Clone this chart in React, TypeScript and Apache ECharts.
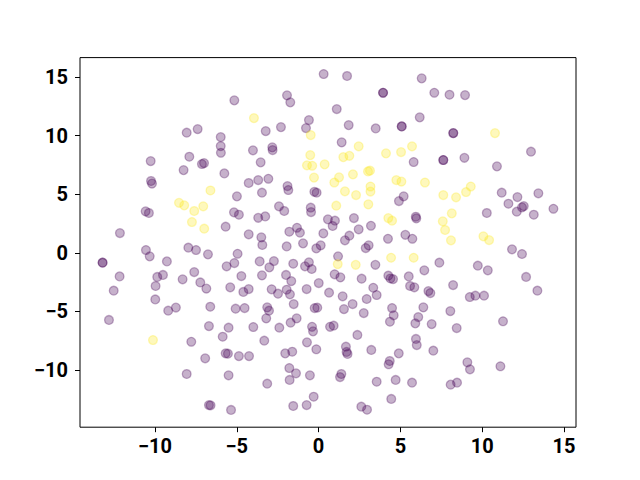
import React, { useEffect, useRef } from "react";
import * as echarts from "echarts";

// Class 0 (purple) points [x, y]
const purplePoints: number[][] = [
  [-8.06, 10.25], [-7.39, 10.56], [-10.26, 7.83], [-7.9, 8.2], [-8.25, 7.06], [-7.13, 7.58], [-7.0, 7.66],
  [-10.24, 6.13], [-10.18, 5.91], [0.31, 15.26], [-5.15, 13.01], [-1.93, 13.44], [-1.73, 12.84], [-0.59, 11.33],
  [-0.77, 10.65], [-2.3, 10.73], [-3.23, 10.39], [-5.98, 9.88], [-5.98, 9.11], [-5.97, 8.54], [-4.01, 8.75],
  [-2.83, 9.0], [-2.81, 8.77], [-3.54, 7.72], [-5.76, 6.78], [-4.27, 5.96], [-3.69, 6.21], [-3.07, 6.32],
  [-1.9, 5.7], [-1.85, 5.36], [1.74, 15.09], [6.3, 14.89], [3.94, 13.66], [3.94, 13.66], [7.07, 13.66],
  [8.0, 13.49], [1.11, 12.27], [1.84, 10.9], [3.49, 10.62], [5.08, 10.79], [5.08, 10.79], [6.18, 11.56],
  [1.41, 9.43], [5.81, 7.75], [7.62, 7.92], [7.62, 7.92], [8.95, 13.46], [8.23, 10.22], [8.23, 10.22],
  [8.91, 8.11], [12.98, 8.63], [10.9, 7.38], [-10.57, 3.54], [-10.37, 3.4], [-12.14, 1.69], [-10.55, 0.24],
  [-10.32, -0.3], [-13.2, -0.84], [-13.2, -0.84], [-9.27, -0.73], [-7.96, 0.44], [-7.49, 0.24], [-6.76, -0.13],
  [-12.16, -2.01], [-9.86, -2.06], [-9.51, -1.89], [-8.31, -2.26], [-7.6, -1.64], [-7.23, -2.53], [-6.86, -3.05],
  [-9.96, -2.83], [-12.52, -3.23], [-9.98, -3.98], [-8.72, -4.67], [-4.99, 4.82], [-3.46, 5.13], [-2.42, 3.97],
  [-2.1, 3.57], [-0.48, 3.85], [-0.46, 3.48], [-5.17, 3.46], [-4.87, 3.25], [-3.69, 2.99], [-3.26, 3.11],
  [-5.68, 2.23], [-4.27, 1.58], [-3.5, 1.32], [-3.44, 0.67], [-1.79, 1.8], [-1.32, 2.14], [-1.14, 1.72],
  [0.29, 1.66], [-1.95, 0.55], [-0.95, 0.81], [-0.14, 0.38], [0.13, 0.64], [-4.95, -0.08], [-5.15, -0.87],
  [-5.62, -1.15], [-3.6, -0.73], [-2.73, -0.7], [-3.01, -1.24], [-1.55, -0.93], [-0.59, -0.81], [-0.83, -1.15],
  [-0.42, -1.38], [-4.72, -1.98], [-3.46, -1.92], [-1.99, -1.89], [-1.67, -2.41], [0.01, -2.58], [-5.4, -2.94],
  [-4.6, -3.34], [-4.27, -3.09], [-2.87, -3.11], [-2.48, -3.49], [-1.95, -3.15], [-1.75, -3.54], [-0.73, -3.09],
  [-0.26, 5.21], [-0.12, 5.13], [4.91, 4.42], [5.2, 4.82], [5.94, 3.08], [5.97, 2.94], [0.57, 2.86],
  [1.0, 2.74], [2.16, 2.97], [0.86, 2.29], [1.88, 1.46], [1.61, 1.07], [2.45, 2.01], [3.2, 2.31],
  [2.88, 0.41], [3.06, 0.64], [4.24, 1.2], [5.3, 1.54], [5.73, 1.2], [1.19, -0.3], [3.47, -1.02],
  [7.38, -0.84], [6.46, -1.49], [0.98, -1.83], [1.33, -2.09], [2.63, -2.21], [4.26, -1.95], [4.39, -2.19],
  [4.55, -2.24], [5.51, -2.01], [0.64, -3.4], [1.47, -3.71], [3.34, -2.98], [3.55, -3.6], [2.94, -3.94],
  [2.08, -4.37], [5.59, -2.83], [5.85, -2.94], [6.71, -3.26], [6.83, -3.43], [11.19, 5.13], [12.15, 4.76],
  [13.43, 5.08], [11.6, 4.19], [12.54, 3.99], [12.43, 3.88], [12.11, 3.51], [13.15, 3.25], [14.35, 3.76],
  [10.28, 3.4], [11.82, 0.3], [12.43, -0.1], [9.73, -1.1], [10.34, -1.49], [12.68, -2.06], [8.22, -2.75],
  [13.37, -3.23], [9.24, -3.77], [9.58, -3.66], [10.11, -3.66], [-9.19, -4.94], [-12.81, -5.73], [-7.78, -7.59],
  [-8.06, -10.34], [-6.62, -4.6], [-5.07, -4.77], [-4.52, -4.71], [-3.14, -4.65], [-3.03, -4.94], [-1.52, -4.37],
  [-0.24, -4.71], [-0.08, -4.68], [-6.7, -6.25], [-5.5, -6.39], [-5.86, -7.16], [-3.99, -6.33], [-3.2, -5.59],
  [-2.4, -6.39], [-1.71, -5.96], [-1.34, -5.59], [-0.4, -6.31], [-0.34, -6.7], [-3.32, -7.5], [-0.71, -7.64],
  [-0.14, -8.23], [-6.93, -9.0], [-5.68, -8.58], [-5.54, -8.61], [-4.87, -8.81], [-4.25, -8.81], [-2.04, -8.58],
  [-1.61, -8.44], [-1.79, -9.83], [-1.38, -10.28], [-1.77, -10.85], [-0.53, -10.45], [-5.5, -10.45], [-3.14, -11.17],
  [-6.7, -12.99], [-6.6, -13.01], [-5.35, -13.41], [-1.55, -13.07], [-0.73, -12.99], [-0.3, -12.28], [1.55, -4.8],
  [2.76, -5.14], [4.49, -4.71], [4.59, -5.33], [4.36, -5.88], [6.4, -4.65], [6.09, -5.48], [5.91, -6.02],
  [6.91, -6.08], [8.05, -4.97], [0.7, -6.31], [0.92, -6.22], [2.37, -7.01], [1.67, -8.01], [1.71, -8.46],
  [1.77, -8.63], [3.22, -8.29], [4.9, -8.58], [4.35, -9.23], [4.28, -9.51], [5.95, -7.35], [6.0, -7.87],
  [7.01, -8.35], [1.39, -10.34], [1.31, -10.6], [3.55, -11.0], [4.71, -10.85], [5.71, -11.08], [4.44, -12.47],
  [2.61, -13.13], [2.96, -13.39], [8.44, -6.42], [11.27, -5.84], [9.09, -9.34], [9.25, -9.94], [11.11, -9.68],
  [8.07, -11.25], [8.46, -11.08],
];

// Class 1 (yellow) points [x, y]
const yellowPoints: number[][] = [
  [-3.95, 11.5], [-0.48, 10.05], [-0.51, 8.34], [-0.71, 7.47], [-0.39, 7.43], [0.37, 7.55], [-0.28, 6.42],
  [2.45, 9.09], [1.51, 8.17], [1.88, 8.28], [4.12, 8.49], [5.04, 8.6], [5.71, 9.09], [1.25, 6.44],
  [2.1, 6.7], [3.02, 6.95], [3.14, 7.01], [0.96, 6.0], [4.75, 6.21], [5.06, 6.08], [6.5, 6.0],
  [3.17, 5.66], [10.78, 10.22], [9.3, 5.66], [-8.53, 4.27], [-8.21, 4.05], [-7.6, 3.57], [-7.05, 3.97],
  [-7.74, 2.63], [-6.99, 2.06], [-6.61, 5.32], [3.17, 5.23], [1.61, 5.25], [2.29, 4.93], [7.62, 4.93],
  [1.08, 4.02], [3.04, 4.14], [4.26, 2.97], [4.49, 2.74], [7.59, 2.69], [7.73, 1.95], [8.09, 1.07],
  [1.17, -0.96], [2.27, -1.02], [4.43, -0.42], [5.81, -0.42], [9.01, 5.19], [8.4, 4.74], [8.14, 3.37],
  [10.07, 1.41], [10.42, 1.09], [-10.12, -7.44],
];

const xTicks = [-10, -5, 0, 5, 10, 15];
const yTicks = [-10, -5, 0, 5, 10, 15];

const X_MIN = -14.58;
const X_MAX = 15.73;
const Y_MIN = -14.88;
const Y_MAX = 16.66;

const PURPLE = "rgba(68,1,84,0.38)";
const YELLOW = "rgba(253,231,37,0.38)";

const fmt = (v: number) => String(v).replace("-", "\u2212");

export default function App() {
  const ref = useRef<HTMLDivElement>(null);
  useEffect(() => {
    if (!ref.current) return;
    const chart = echarts.init(ref.current, null, { renderer: "svg" });
    const labelStyle = {
      color: "#000",
      fontSize: 20,
      fontWeight: "bold" as const,
      fontFamily: "Roboto, 'DejaVu Sans', sans-serif",
      formatter: (v: number) => fmt(v),
    };
    chart.setOption({
      animation: false,
      backgroundColor: "#fff",
      grid: {
        left: 80,
        top: 57.6,
        width: 496,
        height: 369.6,
        show: true,
        borderColor: "#000",
        borderWidth: 1,
        backgroundColor: "transparent",
      },
      xAxis: {
        type: "value",
        min: X_MIN,
        max: X_MAX,
        axisLine: { show: false, onZero: false },
        splitLine: { show: false },
        axisTick: {
          show: true,
          inside: false,
          length: 5,
          lineStyle: { color: "#000", width: 1 },
          customValues: xTicks,
        },
        axisLabel: { ...labelStyle, margin: 9, customValues: xTicks },
      },
      yAxis: {
        type: "value",
        min: Y_MIN,
        max: Y_MAX,
        axisLine: { show: false, onZero: false },
        splitLine: { show: false },
        axisTick: {
          show: true,
          inside: false,
          length: 5,
          lineStyle: { color: "#000", width: 1 },
          customValues: yTicks,
        },
        axisLabel: { ...labelStyle, margin: 12, customValues: yTicks },
      },
      series: [
        {
          type: "scatter",
          data: purplePoints,
          symbol: "circle",
          symbolSize: 8.8,
          itemStyle: { color: PURPLE, borderColor: PURPLE, borderWidth: 1.3 },
          emphasis: { disabled: true },
        },
        {
          type: "scatter",
          data: yellowPoints,
          symbol: "circle",
          symbolSize: 8.8,
          itemStyle: { color: YELLOW, borderColor: YELLOW, borderWidth: 1.3 },
          emphasis: { disabled: true },
        },
      ],
    });
    return () => chart.dispose();
  }, []);
  return <div ref={ref} style={{ width: 640, height: 480, margin: -8 }} />;
}
